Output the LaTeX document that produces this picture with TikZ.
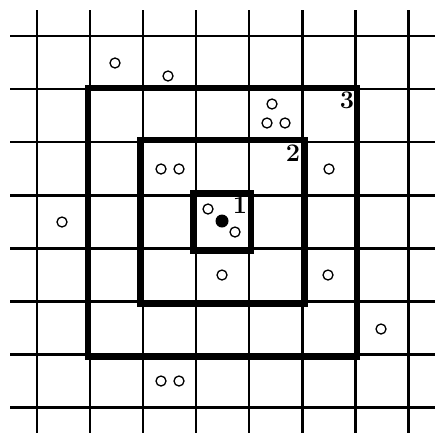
\documentclass[tikz,border=0pt]{standalone}
\usepackage{tikz}

\begin{document}
\begin{tikzpicture}[
  x=0.02cm, y=-0.02cm,
  %% -- lattice line --------------------------------------------------------
  gridline/.style={line width=1.7pt},
  %% -- thick shell around the centre --------------------------------------
  shell/.style={line width=3.9pt},
  %% -- empty site ----------------------------------------------------------
  site/.style={circle, draw, line width=0.75pt, inner sep=0pt, minimum size=0.2cm},
  %% -- occupied centre -----------------------------------------------------
  hit/.style={circle, fill, inner sep=0pt, minimum size=0.26cm},
  %% -- shell number --------------------------------------------------------
  lbl/.style={font=\Large\bfseries, inner sep=0pt},
]

\useasboundingbox (0,0) rectangle (435,433);

%% =========================================================================
%%  LATTICE
%% =========================================================================
\foreach \k in {0,...,7} {
  \draw[gridline] ({37+53*\k},10) -- ({37+53*\k},433);
  \draw[gridline] (10,{36+53*\k}) -- (435,{36+53*\k});
}

%% =========================================================================
%%  SHELLS
%% =========================================================================
\draw[shell] (193,193) rectangle (251,251);
\draw[shell] (140,140) rectangle (305,304);
\draw[shell] (88,88)   rectangle (357,357);

\node[lbl] (n1) at (240,205) {1};
\node[lbl] (n2) at (293,153) {2};
\node[lbl] (n3) at (347,100) {3};

%% =========================================================================
%%  SITES
%% =========================================================================
\node[hit] (c) at (222,221) {};

\foreach \px/\py [count=\i] in {115/63, 168/76, 272/104, 267/123, 285/123,
    161/169, 179/169, 329/169, 62/222, 208/209, 235/232,
    222/275, 328/275, 381/329, 161/381, 179/381}
  \node[site] (s\i) at (\px,\py) {};

\end{tikzpicture}
\end{document}
